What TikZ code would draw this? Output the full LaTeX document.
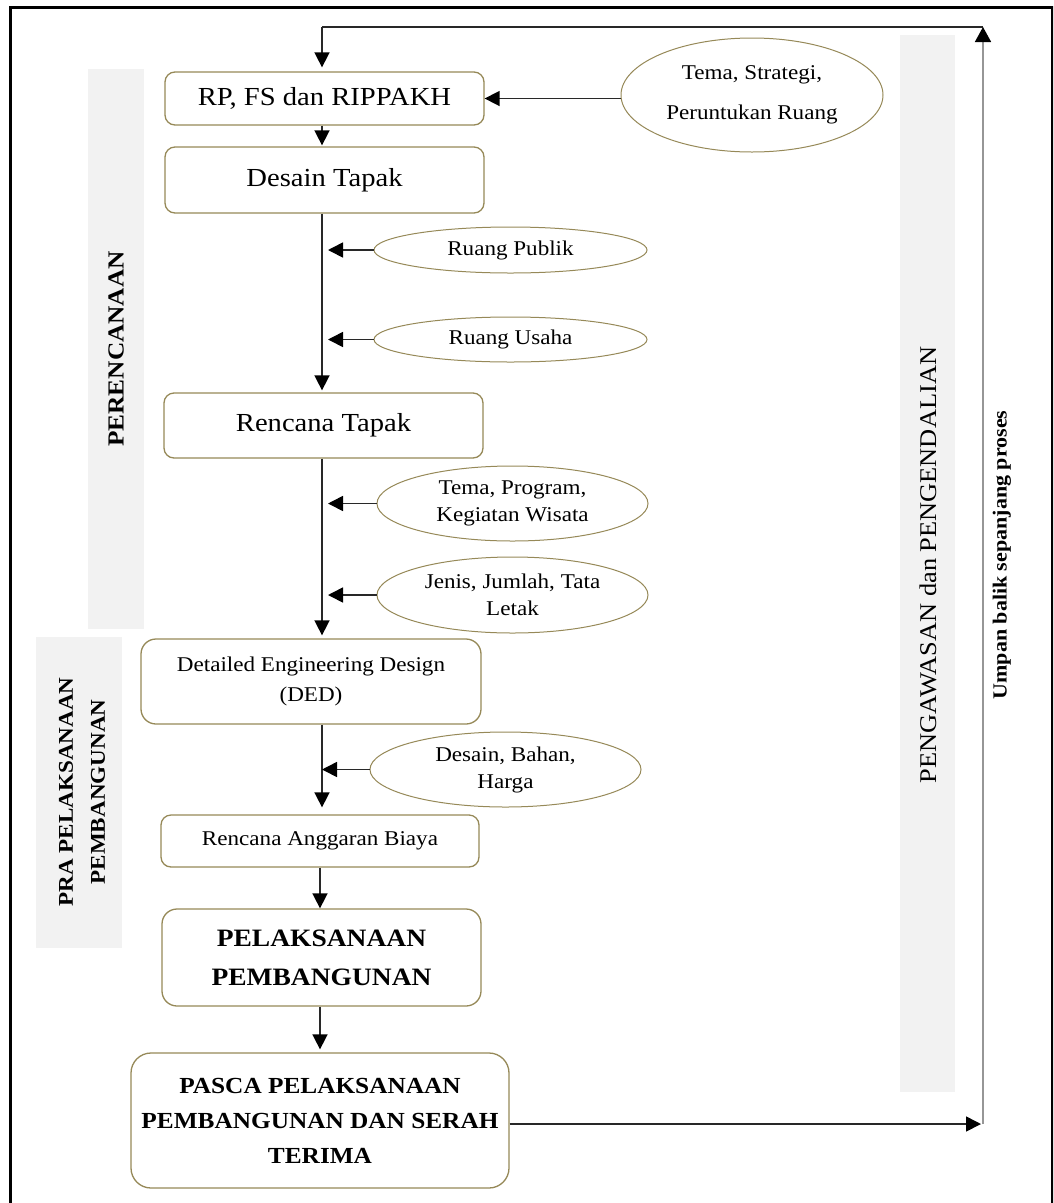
\documentclass[tikz,border=0pt]{standalone}
\usepackage{fontspec}
\setmainfont{Liberation Serif}[FakeStretch=1.1]
\usetikzlibrary{shapes.geometric,arrows.meta}
\definecolor{olive}{RGB}{150,137,88}
\definecolor{bandgray}{RGB}{242,242,242}
\definecolor{darkline}{RGB}{40,40,40}
\definecolor{fbgray}{RGB}{150,150,150}
\begin{document}
\begin{tikzpicture}[x=1pt,y=-1pt,
  box/.style={draw=olive,line width=1.3pt,rounded corners=10pt,align=center,inner sep=0pt,fill=white},
  oval/.style={ellipse,draw=olive,line width=1pt,align=center,inner sep=0pt,fill=white,font=\fontsize{21}{27}\selectfont},
  conn/.style={draw=darkline,line width=1.6pt},
  arr/.style={conn,-{Triangle[length=15pt,width=15pt,color=black]}},
  side/.style={rotate=90,align=center,inner sep=0pt}
]
\clip (0,0) rectangle (1053,1203);
% gray bands
\fill[bandgray] (88,69) rectangle (144,629);
\fill[bandgray] (36,637) rectangle (122,948);
\fill[bandgray] (900,35) rectangle (955,1092);
% outer border
\draw[line width=3pt] (10.5,7.5) rectangle (1052.5,1220);

% side labels
\node[side,font=\bfseries\fontsize{23}{28}\selectfont] (lper) at (116,349) {PERENCANAAN};
\node[side,font=\bfseries\fontsize{21}{32}\selectfont] (lpra) at (82,792) {PRA PELAKSANAAN\\PEMBANGUNAN};
\node[side,font=\fontsize{24}{28}\selectfont] (lpeng) at (928,565) {PENGAWASAN dan PENGENDALIAN};
\node[side,font=\bfseries\fontsize{20}{24}\selectfont] (lump) at (1002,555) {Umpan balik sepanjang proses};

% boxes
\node[box,minimum width=319pt,minimum height=53pt,font=\fontsize{26}{30}\selectfont] (b1) at (324.5,98.5) {RP, FS dan RIPPAKH};
\node[box,minimum width=319pt,minimum height=66pt,font=\fontsize{26}{30}\selectfont] (b2) at (324.5,180) {Desain Tapak};
\node[box,minimum width=319pt,minimum height=65pt,font=\fontsize{26}{30}\selectfont] (b3) at (323.5,425.5) {Rencana Tapak};
\node[box,rounded corners=15pt,minimum width=340pt,minimum height=85pt,font=\fontsize{21}{30}\selectfont] (b4) at (311,681.5) {Detailed Engineering Design\\(DED)};
\node[box,minimum width=318pt,minimum height=52pt,font=\fontsize{21}{27}\selectfont] (b5) at (320,841) {Rencana Anggaran Biaya};
\node[box,rounded corners=15pt,minimum width=319pt,minimum height=97pt,font=\bfseries\fontsize{25}{39}\selectfont] (b6) at (321.5,957.5) {PELAKSANAAN\\PEMBANGUNAN};
\node[box,rounded corners=20pt,minimum width=378pt,minimum height=135pt,font=\bfseries\fontsize{23}{35}\selectfont] (b7) at (320,1120.5) {PASCA PELAKSANAAN\\PEMBANGUNAN DAN SERAH\\TERIMA};

% ellipses
\node[oval,minimum width=262pt,minimum height=114pt,font=\fontsize{21}{40}\selectfont] (e1) at (752,95) {Tema, Strategi,\\Peruntukan Ruang};
\node[oval,minimum width=273pt,minimum height=46pt] (e2) at (510.5,250) {Ruang Publik};
\node[oval,minimum width=273pt,minimum height=45pt] (e3) at (510.5,339.5) {Ruang Usaha};
\node[oval,minimum width=271pt,minimum height=75pt] (e4) at (512.5,503.5) {Tema, Program,\\Kegiatan Wisata};
\node[oval,minimum width=271pt,minimum height=76pt] (e5) at (512.5,595) {Jenis, Jumlah, Tata\\Letak};
\node[oval,minimum width=271pt,minimum height=75pt] (e6) at (505.5,769.5) {Desain, Bahan,\\Harga};

% spine x positions
\coordinate (sp) at (322,0);
\coordinate (sq) at (320,0);

% feedback loop
\coordinate (tl) at (322,27);
\coordinate (tr) at (983,27);
\coordinate (br) at (983,1124);
\draw[conn] (tl) -- (tr);
\draw[draw=fbgray,line width=1.6pt,-{Triangle[length=15pt,width=16pt,color=black]}] (br) -- (tr);
\draw[arr,shorten >=4pt] (tl) -- (tl |- b1.north);
\draw[arr,shorten >=2pt] (b7.east |- br) -- (br);

% main flow
\draw[arr] (e1.west |- b1.east) -- (b1.east);
\draw[arr,shorten >=1pt] (b1.south -| sp) -- (b2.north -| sp);
\draw[arr,shorten >=2pt] (b2.south -| sp) -- (b3.north -| sp);
\draw[arr,shorten >=6pt] (e2.west) -- (e2.west -| sp);
\draw[arr,shorten >=6pt] (e3.west) -- (e3.west -| sp);
\draw[arr,shorten >=3pt] (b3.south -| sp) -- (b4.north -| sp);
\draw[arr,shorten >=6pt] (e4.west) -- (e4.west -| sp);
\draw[arr,shorten >=6pt] (e5.west) -- (e5.west -| sp);
\draw[arr,shorten >=7pt] (b4.south -| sp) -- (b5.north -| sp);
\draw[arr] (e6.west) -- (e6.west -| sp);
\draw[arr] (b5.south -| sq) -- (b6.north -| sq);
\draw[arr,shorten >=3pt] (b6.south -| sq) -- (b7.north -| sq);
\end{tikzpicture}
\end{document}
